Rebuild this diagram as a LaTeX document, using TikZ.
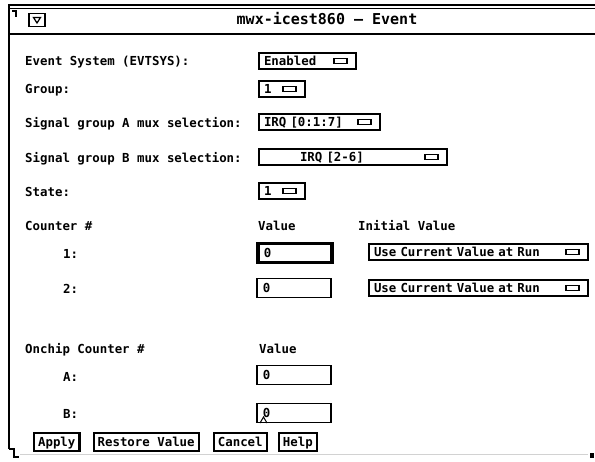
\documentclass[tikz,border=0pt]{standalone}
\usepackage{fontspec}
\newfontfamily\uifont{DejaVu Sans Mono}
\usetikzlibrary{positioning}
\begin{document}
\begin{tikzpicture}[x=1pt, y=-1pt,
every node/.style={font=\uifont\bfseries\fontsize{12.4}{14}\selectfont, inner sep=0pt, text height=10pt, text depth=1pt},
field_label/.style={anchor=west},
menu_btn/.style={draw, line width=2pt, anchor=west, minimum height=16pt, inner xsep=5pt, align=left},
menu_icon/.style={draw, line width=1.8pt, minimum width=13pt, minimum height=5pt, text height=0pt, text depth=0pt},
text_field/.style={draw, line width=1.6pt, anchor=west, minimum height=19pt, inner xsep=6pt, text width=62pt, align=left},
push_btn/.style={draw, line width=2.2pt, anchor=west, minimum height=18pt, inner xsep=4pt}]
    \path[use as bounding box, fill=white] (0,0) rectangle (595,461);

    % Window frame
    \draw[line width=1.8pt] (9,449) -- (9,5) -- (595,5);
    \draw[line width=1.3pt] (9,8.5) -- (595,8.5);
    \draw[line width=1.1pt] (12,11) -- (16,11) -- (16,17);
    \draw[line width=2.6pt] (9,34) -- (595,34);
    \draw[line width=1.4pt] (9,449) -- (14,449) -- (14,457) -- (19,457);
    \draw[gray!35, line width=0.8pt] (20,454) -- (588,454);
    \fill (590,453) rectangle (594,458);

    % Title bar
    \node (win_menu) [draw, line width=1.8pt, minimum width=16pt, minimum height=13pt, text height=0pt, text depth=0pt] at (37,20) {};
    \draw[line width=1.2pt] ([xshift=-3.5pt,yshift=2.5pt]win_menu.center) -- ([xshift=3.5pt,yshift=2.5pt]win_menu.center) -- ([yshift=-3pt]win_menu.center) -- cycle;
    \node (title) at (327,20) {\fontsize{15}{17}\selectfont mwx-icest860 – Event};

    % Labels
    \node (evt_lbl) [field_label] at (25,61) {Event System (EVTSYS):};
    \node (grp_lbl) [field_label] at (25,89) {Group:};
    \node (muxa_lbl) [field_label] at (25,123) {Signal group A mux selection:};
    \node (muxb_lbl) [field_label] at (25,158) {Signal group B mux selection:};
    \node (state_lbl) [field_label] at (25,192) {State:};
    \node (cnt_lbl) [field_label] at (25,226) {Counter \#};
    \node (cnt_val) [field_label] at (258,226) {Value};
    \node (cnt_init) [field_label] at (358,226) {Initial Value};
    \node (cnt1_lbl) [field_label] at (63,254) {1:};
    \node (cnt2_lbl) [field_label] at (63,289) {2:};
    \node (onchip_lbl) [field_label] at (25,349) {Onchip Counter \#};
    \node (onchip_val) [field_label] at (259,349) {Value};
    \node (chipa_lbl) [field_label] at (63,377) {A:};
    \node (chipb_lbl) [field_label] at (63,414) {B:};

    % Option menus
    \node (evt_btn) [menu_btn, text width=87pt] at (258,61) {Enabled};
    \node (evt_icon) [menu_icon, left=9pt of evt_btn.east] {};
    \node (grp_btn) [menu_btn, text width=36pt] at (258,89) {1};
    \node (grp_icon) [menu_icon, left=9pt of grp_btn.east] {};
    \node (muxa_btn) [menu_btn, text width=111pt] at (258,122) {IRQ [0:1:7]};
    \node (muxa_icon) [menu_icon, left=9pt of muxa_btn.east] {};
    \node (muxb_btn) [menu_btn, text width=178pt] at (258,157) {\hspace*{36pt}IRQ [2-6]};
    \node (muxb_icon) [menu_icon, left=9pt of muxb_btn.east] {};
    \node (state_btn) [menu_btn, text width=36pt] at (258,191) {1};
    \node (state_icon) [menu_icon, left=9pt of state_btn.east] {};
    \node (cnt1_init) [menu_btn, text width=209pt] at (368,252) {Use Current Value at Run};
    \node (cnt1_icon) [menu_icon, left=9pt of cnt1_init.east] {};
    \node (cnt2_init) [menu_btn, text width=209pt] at (368,288) {Use Current Value at Run};
    \node (cnt2_icon) [menu_icon, left=9pt of cnt2_init.east] {};

    % Text fields
    \node (cnt1_fld) [text_field, line width=3.5pt] at (256,253) {0};
    \node (cnt2_fld) [text_field] at (256,288) {0};
    \node (chipa_fld) [text_field] at (256,375) {0};
    \node (chipb_fld) [text_field] at (256,413) {0};
    \draw[line width=1pt] (chipb_fld.west) ++(4,10) -- ++(3.5,-6) -- ++(3.5,6);

    % Buttons
    \node (apply_btn) [push_btn] at (33,442) {Apply};
    \node (restore_btn) [push_btn, right=12pt of apply_btn] {Restore Value};
    \node (cancel_btn) [push_btn, right=13pt of restore_btn] {Cancel};
    \node (help_btn) [push_btn, right=10pt of cancel_btn] {Help};

  \end{tikzpicture}
\end{document}
